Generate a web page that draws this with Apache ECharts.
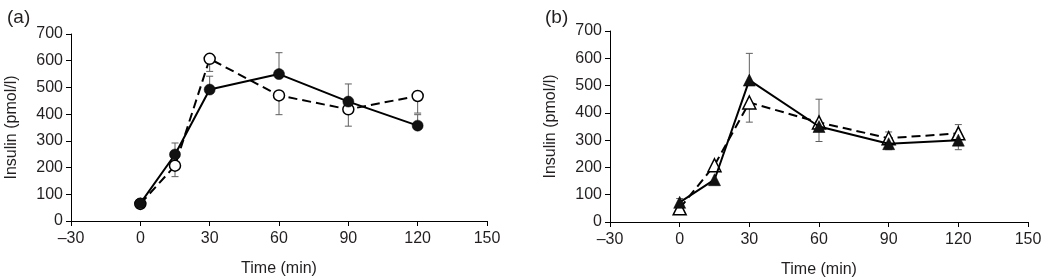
<!DOCTYPE html>
<html>
<head>
<meta charset="utf-8">
<script src="https://cdn.jsdelivr.net/npm/echarts@6/dist/echarts.min.js"></script>
<style>
  html, body { margin: 0; padding: 0; background: #fff; }
  #chart { width: 1050px; height: 279px; }
</style>
</head>
<body>
<div id="chart"></div>
<script>
// sampling times (min)
const times = [0, 15, 30, 60, 90, 120];
const xTicks = [-30, 0, 30, 60, 90, 120, 150];

// panel (a): circles
const aFilled = [66, 249, 492, 550, 447, 357];
const aFilledErr = [null, 292, 542, 630, 513, 398];
const aOpen = [64, 207, 607, 470, 418, 468];
const aOpenErr = [null, 166, 560, 398, 355, 404];

// panel (b): triangles
const bFilled = [72, 155, 520, 350, 287, 300];
const bFilledErr = [86, null, 618, 450, 265, 265];
const bOpen = [50, 208, 438, 365, 307, 325];
const bOpenErr = [null, null, 366, 295, 330, 357];

const FONT = "Liberation Sans, Arial, sans-serif";
const TXT = "#231f20";

const pairs = (vals) => times.map((t, i) => [t, vals[i]]);
const errRows = (vals, ends) =>
  times.map((t, i) => [t, vals[i], ends[i]]).filter((r) => r[2] != null);

function errSeries(idx, vals, ends) {
  return {
    type: "custom",
    xAxisIndex: idx,
    yAxisIndex: idx,
    z: 1,
    silent: true,
    encode: { x: 0, y: [1, 2] },
    data: errRows(vals, ends),
    renderItem: (params, api) => {
      const p0 = api.coord([api.value(0), api.value(1)]);
      const p1 = api.coord([api.value(0), api.value(2)]);
      const style = { stroke: "#5f5f5f", lineWidth: 1 };
      return {
        type: "group",
        children: [
          { type: "line", shape: { x1: p0[0], y1: p0[1], x2: p1[0], y2: p1[1] }, style },
          { type: "line", shape: { x1: p1[0] - 3.5, y1: p1[1], x2: p1[0] + 3.5, y2: p1[1] }, style },
        ],
      };
    },
  };
}

function lineSeries(idx, vals, symbol, filled, dashed, size) {
  return {
    type: "line",
    xAxisIndex: idx,
    yAxisIndex: idx,
    z: filled ? 4 : 3,
    data: pairs(vals),
    symbol: symbol,
    symbolSize: size,
    showAllSymbol: true,
    animation: false,
    lineStyle: { color: "#000", width: 2, type: dashed ? [9, 5] : "solid" },
    itemStyle: {
      color: filled ? "#111" : "#fff",
      borderColor: "#000",
      borderWidth: filled ? 0.5 : 1.5,
    },
  };
}

function xAxis(idx) {
  return {
    type: "value",
    gridIndex: idx,
    min: -30,
    max: 150,
    interval: 30,
    name: "Time (min)",
    nameLocation: "middle",
    nameGap: 40,
    nameTextStyle: { fontFamily: FONT, fontSize: 16, color: TXT },
    axisLine: { onZero: false, lineStyle: { color: "#000", width: 1 } },
    axisTick: { inside: false, length: 5, lineStyle: { color: "#000" } },
    axisLabel: {
      margin: 10,
      fontFamily: FONT,
      fontSize: 16,
      color: TXT,
      formatter: (v) => (v < 0 ? "\u2013" + Math.abs(v) : String(v)),
    },
    splitLine: { show: false },
  };
}

function yAxis(idx) {
  return {
    type: "value",
    gridIndex: idx,
    min: 0,
    max: 700,
    interval: 100,
    name: "Insulin (pmol/l)",
    nameLocation: "middle",
    nameRotate: 90,
    nameGap: 51,
    nameTextStyle: { fontFamily: FONT, fontSize: 16, color: TXT },
    axisLine: { show: true, onZero: false, lineStyle: { color: "#000", width: 1 } },
    axisTick: { show: true, inside: false, length: 5, lineStyle: { color: "#000" } },
    axisLabel: { margin: 8, fontFamily: FONT, fontSize: 16, color: TXT },
    splitLine: { show: false },
  };
}

const chart = echarts.init(document.getElementById("chart"), null, { renderer: "canvas" });
chart.setOption({
  animation: false,
  backgroundColor: "#fff",
  title: [
    { text: "(a)", left: 2, top: 3, textStyle: { fontFamily: FONT, fontSize: 19, fontWeight: "normal", color: TXT } },
    { text: "(b)", left: 540, top: 3, textStyle: { fontFamily: FONT, fontSize: 19, fontWeight: "normal", color: TXT } },
  ],
  grid: [
    { left: 71, top: 34, width: 416, height: 187, outerBoundsMode: "none", containLabel: false },
    { left: 610, top: 31, width: 418, height: 191, outerBoundsMode: "none", containLabel: false },
  ],
  xAxis: [xAxis(0), xAxis(1)],
  yAxis: [yAxis(0), yAxis(1)],
  series: [
    errSeries(0, aFilled, aFilledErr),
    errSeries(0, aOpen, aOpenErr),
    lineSeries(0, aOpen, "circle", false, true, 11),
    lineSeries(0, aFilled, "circle", true, false, 11),
    errSeries(1, bFilled, bFilledErr),
    errSeries(1, bOpen, bOpenErr),
    lineSeries(1, bOpen, "triangle", false, true, 13),
    lineSeries(1, bFilled, "triangle", true, false, 12),
  ],
});
</script>
</body>
</html>
